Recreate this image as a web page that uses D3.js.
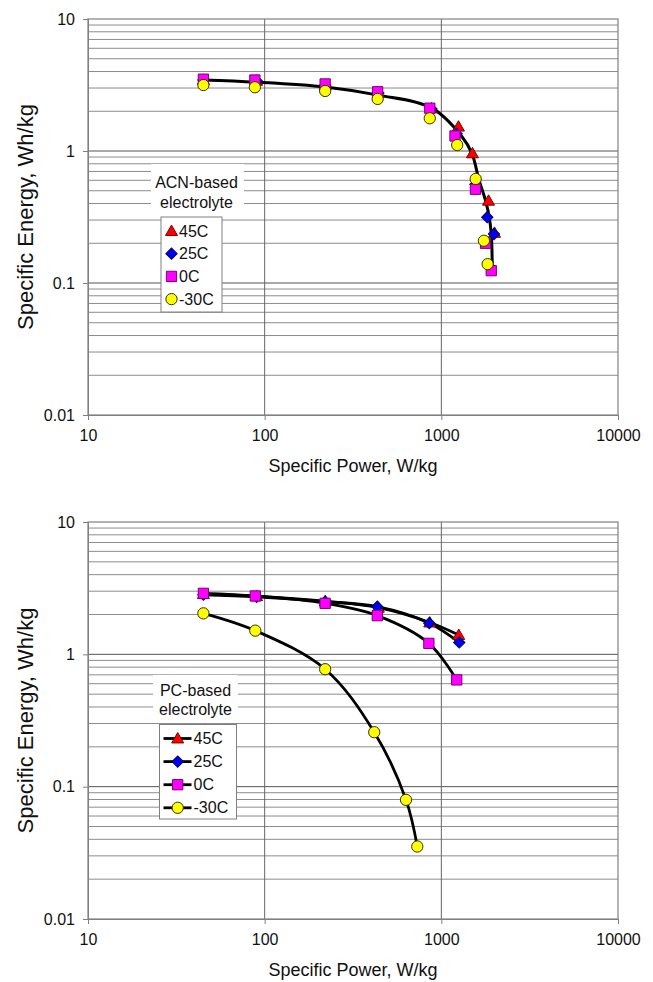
<!DOCTYPE html>
<html><head><meta charset="utf-8">
<script src="https://cdn.jsdelivr.net/npm/d3@7"></script>
<style>body{margin:0;background:#fff;} text{font-family:Arial,"Liberation Sans",sans-serif;fill:#111;}</style>
</head><body><svg id="c" width="653" height="982"></svg>
<script>
// ---------- data ----------
const xTicks = [10, 100, 1000, 10000];
const yTicks = [0.01, 0.1, 1, 10];
const tickLabels = {10: "10", 100: "100", 1000: "1000", 10000: "10000", 0.01: "0.01", 0.1: "0.1", 1: "1"};
const seriesNames = ["45C", "25C", "0C", "-30C"];
const xTitle = "Specific Power, W/kg";
const yTitle = "Specific Energy, Wh/kg";

// ACN-based electrolyte (top)
const acn45P = [45, 90, 220, 440, 880, 1250, 1500, 1850, 2000];
const acn45E = [3.45, 3.4, 3.15, 2.75, 2.1, 1.53, 0.96, 0.42, 0.24];
const acn25P = [45, 90, 220, 440, 880, 1220, 1560, 1820, 1985];
const acn25E = [3.45, 3.4, 3.15, 2.75, 2.08, 1.35, 0.56, 0.315, 0.235];
const acn0P = [45, 88, 220, 436, 860, 1195, 1560, 1780, 1917];
const acn0E = [3.5, 3.45, 3.22, 2.81, 2.11, 1.30, 0.513, 0.2, 0.124];
const acnM30P = [45, 88, 220, 436, 860, 1230, 1565, 1742, 1828];
const acnM30E = [3.16, 3.04, 2.85, 2.48, 1.77, 1.11, 0.614, 0.209, 0.139];
const acnFitP = [45, 90, 220, 440, 880, 1300, 1490, 1630, 1780, 1867, 1917, 1943];
const acnFitE = [3.45, 3.32, 3.05, 2.65, 2.12, 1.30, 0.96, 0.61, 0.42, 0.315, 0.235, 0.13];

// PC-based electrolyte (bottom)
const pc45P = [45, 90, 220, 440, 860, 1255];
const pc45E = [2.85, 2.75, 2.52, 2.25, 1.74, 1.40];
const pc25P = [45, 90, 220, 434, 855, 1263];
const pc25E = [2.82, 2.72, 2.5, 2.29, 1.72, 1.23];
const pc0P = [45, 88.5, 220, 434, 850, 1222];
const pc0E = [2.89, 2.76, 2.43, 1.96, 1.21, 0.641];
const pcM30P = [45, 88.5, 220, 417, 631, 731];
const pcM30E = [2.04, 1.51, 0.772, 0.258, 0.0795, 0.0353];

// ---------- styles ----------
const markerStyle = [
  {type: "tri", fill: "#ff0000", stroke: "#7a0000"},
  {type: "dia", fill: "#0000ee", stroke: "#000070"},
  {type: "sq", fill: "#ff00ff", stroke: "#7a007a"},
  {type: "circ", fill: "#ffff00", stroke: "#333300"}
];
const svg = d3.select("#c");

function marker(g, x, y, st) {
  let s;
  if (st.type === "tri") s = d3.symbol(d3.symbolTriangle, 62)();
  else if (st.type === "dia") s = d3.symbol(d3.symbolSquare, 64)();
  else if (st.type === "sq") s = d3.symbol(d3.symbolSquare, 106)();
  else s = d3.symbol(d3.symbolCircle, 100)();
  return g.append("path").attr("d", s)
    .attr("fill", st.fill).attr("stroke", st.stroke).attr("stroke-width", 1)
    .attr("transform", `translate(${x},${y})` + (st.type === "dia" ? " rotate(45)" : "") + (st.type === "tri" ? " translate(0,1)" : ""));
}

function drawChart(top, bottom, series, fit, label, legend, withLines) {
  const x = d3.scaleLog().domain([10, 10000]).range([88, 618]);
  const y = d3.scaleLog().domain([0.01, 10]).range([bottom, top]);
  const g = svg.append("g");

  // minor horizontal grid
  const minor = [];
  for (let d = 0.01; d < 10; d *= 10) for (let k = 2; k <= 9; k++) minor.push(+(d * k).toPrecision(3));
  g.append("g").selectAll("line").data(minor).join("line")
    .attr("x1", 88).attr("x2", 618).attr("y1", d => y(d)).attr("y2", d => y(d))
    .attr("stroke", "#8c8c8c").attr("stroke-width", 1);
  // major horizontal grid
  g.append("g").selectAll("line").data(yTicks.slice(1, 3)).join("line")
    .attr("x1", 88).attr("x2", 618).attr("y1", d => y(d)).attr("y2", d => y(d))
    .attr("stroke", "#555").attr("stroke-width", 1);
  // vertical grid
  g.append("g").selectAll("line").data(xTicks.slice(1, 3)).join("line")
    .attr("y1", top).attr("y2", bottom).attr("x1", d => x(d)).attr("x2", d => x(d))
    .attr("stroke", "#666").attr("stroke-width", 1);
  // border
  g.append("rect").attr("x", 88).attr("y", top).attr("width", 530).attr("height", bottom - top)
    .attr("fill", "none").attr("stroke", "#808080").attr("stroke-width", 1.2);

  // axes
  const ax = d3.axisBottom(x).tickValues(xTicks).tickFormat(d => tickLabels[d]).tickSize(5).tickPadding(10);
  const axG = g.append("g").attr("transform", `translate(0,${bottom})`).call(ax);
  const ay = d3.axisLeft(y).tickValues(yTicks).tickFormat(d => tickLabels[d]).tickSize(5).tickPadding(8);
  const ayG = g.append("g").attr("transform", `translate(88,0)`).call(ay);
  [axG, ayG].forEach(a => {
    a.select(".domain").attr("stroke", "#808080");
    a.selectAll(".tick line").attr("stroke", "#808080");
    a.selectAll(".tick text").attr("font-size", 16).attr("fill", "#111")
      .attr("font-family", "Arial, 'Liberation Sans', sans-serif");
  });

  g.append("text").attr("x", 353).attr("y", bottom + 57).attr("text-anchor", "middle")
    .attr("font-size", 18).text(xTitle);
  g.append("text").attr("transform", `translate(33,${(top + bottom) / 2}) rotate(-90)`)
    .attr("text-anchor", "middle").attr("font-size", 22).text(yTitle);

  // label with white background
  g.append("rect").attr("x", label.bx).attr("y", label.by).attr("width", label.bw).attr("height", label.bh).attr("fill", "#fff");
  label.lines.forEach((t, i) => {
    g.append("text").attr("x", label.cx).attr("y", label.cy + i * label.dy).attr("text-anchor", "middle")
      .attr("dominant-baseline", "central").attr("font-size", 16).text(t);
  });

  // lines
  const line = d3.line().x(d => x(d[0])).y(d => y(d[1])).curve(d3.curveCatmullRom.alpha(0.5));
  if (fit) {
    g.append("path").attr("d", line(fit)).attr("fill", "none").attr("stroke", "#000").attr("stroke-width", 3);
  }
  if (withLines) {
    series.forEach(s => {
      g.append("path").attr("d", line(s)).attr("fill", "none").attr("stroke", "#000").attr("stroke-width", 2.8);
    });
  }
  // markers
  series.forEach((s, i) => {
    s.forEach(d => marker(g, x(d[0]), y(d[1]), markerStyle[i]));
  });

  // legend
  g.append("rect").attr("x", legend.x).attr("y", legend.y).attr("width", legend.w).attr("height", legend.h)
    .attr("fill", "#fff").attr("stroke", "#808080").attr("stroke-width", 1);
  seriesNames.forEach((n, i) => {
    const yy = legend.y0 + i * legend.dy;
    if (withLines) {
      g.append("line").attr("x1", legend.lx1).attr("x2", legend.lx2).attr("y1", yy).attr("y2", yy)
        .attr("stroke", "#000").attr("stroke-width", 2.8);
    }
    marker(g, legend.mx, yy, markerStyle[i]);
    g.append("text").attr("x", legend.tx).attr("y", yy).attr("dominant-baseline", "central")
      .attr("font-size", 16).text(n);
  });
}

const zip = (a, b) => a.map((v, i) => [v, b[i]]);

drawChart(19, 415,
  [zip(acn45P, acn45E), zip(acn25P, acn25E), zip(acn0P, acn0E), zip(acnM30P, acnM30E)],
  zip(acnFitP, acnFitE),
  {lines: ["ACN-based", "electrolyte"], cx: 196.5, cy: 182, dy: 20, bx: 151, by: 164, bw: 93, bh: 46},
  {x: 161, y: 217, w: 61, h: 95, y0: 231, dy: 22.7, mx: 171.5, tx: 179, lx1: 0, lx2: 0},
  false);

drawChart(522, 919,
  [zip(pc45P, pc45E), zip(pc25P, pc25E), zip(pc0P, pc0E), zip(pcM30P, pcM30E)],
  null,
  {lines: ["PC-based", "electrolyte"], cx: 195.5, cy: 690, dy: 19.5, bx: 153, by: 675, bw: 85, bh: 42},
  {x: 159.5, y: 724.5, w: 77, h: 94.5, y0: 738.5, dy: 23.1, mx: 177.7, tx: 193.5, lx1: 163.5, lx2: 191.5},
  true);
</script>
</body></html>
